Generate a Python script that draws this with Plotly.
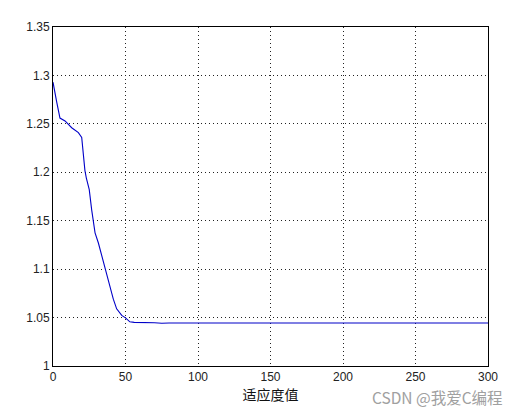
import plotly.graph_objects as go

# curve (generation vs. best fitness)
gen = [0, 1, 2.5, 4.8, 8.3, 12.9, 17.5, 19.8, 21, 22, 23, 25, 26.7, 27.8, 29,
       31.3, 33.6, 35.9, 37.5, 39.8, 41.6, 43.9, 47.4, 50, 53, 56, 60, 70,
       75, 80, 100, 150, 200, 250, 300]
fitness = [1.293, 1.283, 1.273, 1.256, 1.253, 1.246, 1.241, 1.236, 1.216,
           1.202, 1.194, 1.182, 1.161, 1.150, 1.1375, 1.127, 1.114, 1.100,
           1.090, 1.0796, 1.069, 1.059, 1.0523, 1.0497, 1.0456, 1.045, 1.045,
           1.0446, 1.0442, 1.0444, 1.0444, 1.0444, 1.0444, 1.0444, 1.0444]

x_ticks = [0, 50, 100, 150, 200, 250, 300]
y_ticks = [1, 1.05, 1.1, 1.15, 1.2, 1.25, 1.3, 1.35]
y_labels = ["1", "1.05", "1.1", "1.15", "1.2", "1.25", "1.3", "1.35"]

fig = go.Figure()
fig.add_trace(go.Scatter(x=gen, y=fitness, mode="lines",
                         line=dict(color="#0000c8", width=1.1)))

axis_style = dict(
    showline=True, linecolor="black", linewidth=1, mirror=True,
    ticks="", showgrid=True, gridcolor="#222", griddash="1px,3px", gridwidth=1,
    zeroline=False,
    tickfont=dict(family="Liberation Sans, Arial", size=12, color="#222"),
)

# the page body keeps an 8px margin, so the figure is sized to fit 522x415
fig.update_layout(
    width=506, height=399,
    margin=dict(l=45, r=26, t=18, b=34),
    paper_bgcolor="white", plot_bgcolor="white",
    showlegend=False,
    xaxis=dict(range=[0, 300], tickvals=x_ticks,
               title=dict(text="适应度值", standoff=1,
                          font=dict(family="Noto Sans CJK SC", size=14, color="#111")),
               **axis_style),
    yaxis=dict(range=[1, 1.35], tickvals=y_ticks, ticktext=y_labels,
               **axis_style),
    annotations=[dict(text="CSDN @我爱C编程", xref="paper", yref="paper",
                      x=1.0 + 17 / 435, y=-32 / 347,
                      showarrow=False, xanchor="right", yanchor="middle",
                      font=dict(family="Noto Sans CJK SC", size=15.5, color="#a0a0a0"))],
)

fig.write_html("out.html")
